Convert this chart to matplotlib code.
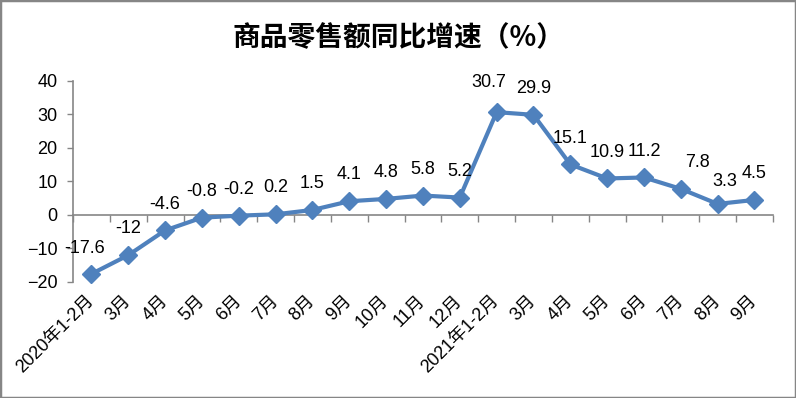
import matplotlib
matplotlib.use("Agg")
import matplotlib.pyplot as plt
from matplotlib.patches import Rectangle
import numpy as np

# ── data ──────────────────────────────────────────────────────────────
months = ["2020年1-2月", "3月", "4月", "5月", "6月", "7月", "8月", "9月",
          "10月", "11月", "12月", "2021年1-2月", "3月", "4月", "5月", "6月",
          "7月", "8月", "9月"]
growth = [-17.6, -12, -4.6, -0.8, -0.2, 0.2, 1.5, 4.1, 4.8, 5.8, 5.2,
          30.7, 29.9, 15.1, 10.9, 11.2, 7.8, 3.3, 4.5]
labels = ["-17.6", "-12", "-4.6", "-0.8", "-0.2", "0.2", "1.5", "4.1", "4.8",
          "5.8", "5.2", "30.7", "29.9", "15.1", "10.9", "11.2", "7.8", "3.3", "4.5"]
yticks = [-20, -10, 0, 10, 20, 30, 40]
title = "商品零售额同比增速（%）"

# label nudges (points) where the original labels were moved by hand
nudge = {0: (-5, 18), 11: (-6, 21), 16: (12, 19), 17: (5, 16)}

BLUE = "#4F81BD"
GREY = "#868686"
FONT = ["Liberation Sans", "Noto Sans CJK SC"]
plt.rcParams["font.family"] = FONT

fig = plt.figure(figsize=(7.96, 3.98), dpi=100)
ax = fig.add_axes([0.0917, 0.2915, 0.8793, 0.505])

x = np.arange(len(months))
ax.plot(x, growth, color=BLUE, lw=3, marker="D", ms=9, zorder=3, clip_on=False)

for i, (v, t) in enumerate(zip(growth, labels)):
    dx, dy = nudge.get(i, (0, 19))
    ax.annotate(t, (i, v), xytext=(dx, dy), textcoords="offset points",
                ha="center", va="center", fontsize=13, color="black")

ax.set_xlim(-0.5, len(months) - 0.5)
ax.set_ylim(-20, 40)
ax.set_yticks(yticks)
ax.tick_params(axis="y", direction="out", length=4, width=1, color=GREY,
               labelsize=13, pad=7)

# x axis crosses at 0, labels sit low
ax.spines["bottom"].set_position(("data", 0))
ax.set_xticks(x)
ax.set_xticklabels(months, rotation=45, ha="right", va="center",
                   rotation_mode="anchor", fontsize=13)
ax.set_xticks(np.arange(len(months) + 1) - 0.5, minor=True)
ax.tick_params(axis="x", which="major", length=0, pad=60)
ax.tick_params(axis="x", which="minor", direction="out", length=5, width=1, color=GREY)

for s in ["top", "right"]:
    ax.spines[s].set_visible(False)
for s in ["left", "bottom"]:
    ax.spines[s].set_color(GREY)
    ax.spines[s].set_linewidth(1.2)

fig.text(0.5, 0.9045, title, ha="center", va="center", fontsize=20,
         fontweight="bold", family=["Noto Sans CJK SC"])

fig.patches.append(Rectangle((0, 0), 1, 1, transform=fig.transFigure,
                             fill=False, edgecolor=GREY, lw=2.5))

fig.savefig("out.png", dpi=100)
